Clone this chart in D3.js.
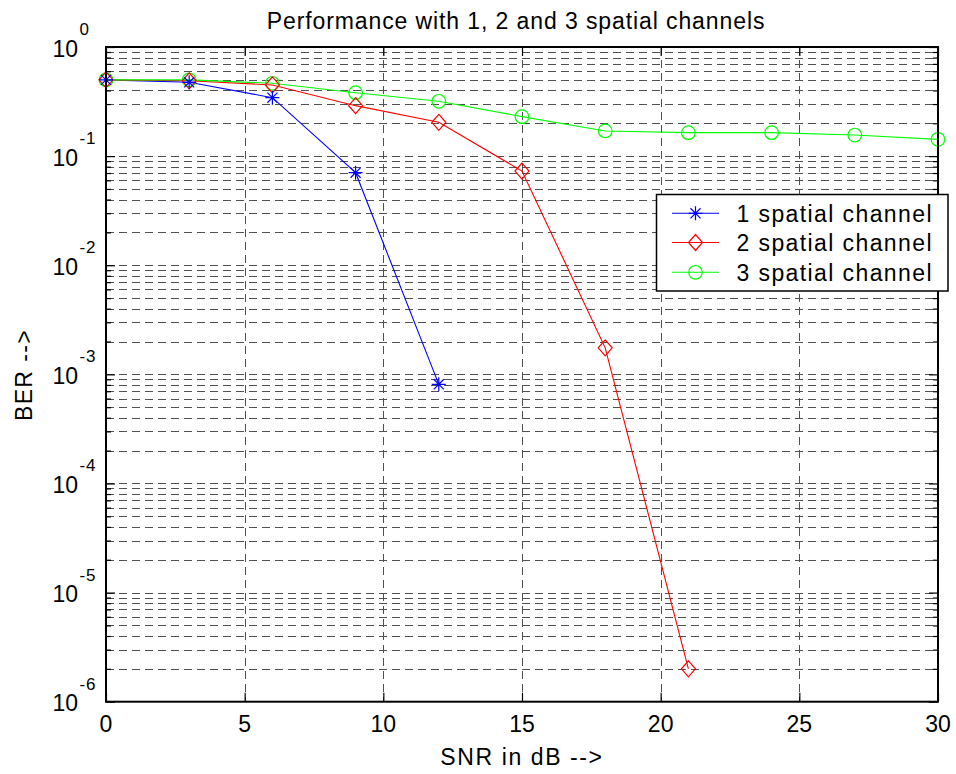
<!DOCTYPE html>
<html>
<head>
<meta charset="utf-8">
<script src="https://cdn.jsdelivr.net/npm/d3@7"></script>
<style>
  html, body { margin: 0; padding: 0; background: #fff; }
  text { font-family: "Liberation Sans", Arial, Helvetica, sans-serif; fill: #000; }
</style>
</head>
<body>
<svg id="chart" width="956" height="774"></svg>
<script>
// ---- data ----
const snr1 = [0, 3, 6, 9, 12];
const ber1 = [0.5, 0.475, 0.343, 0.0705, 8.1e-4];
const snr2 = [0, 3, 6, 9, 12, 15, 18, 21];
const ber2 = [0.5, 0.49, 0.449, 0.29, 0.204, 0.073, 1.75e-3, 2.0e-6];
const snr3 = [0, 3, 6, 9, 12, 15, 18, 21, 24, 27, 30];
const ber3 = [0.5, 0.5, 0.465, 0.381, 0.318, 0.23, 0.17, 0.164, 0.164, 0.156, 0.1425];
const seriesNames = ["1 spatial channel", "2 spatial channel", "3 spatial channel"];
const xTicks = [0, 5, 10, 15, 20, 25, 30];
const yExponents = [-6, -5, -4, -3, -2, -1, 0];
const titleText = "Performance with 1, 2 and 3 spatial channels";
const xLabelText = "SNR in dB -->";
const yLabelText = "BER -->";

// ---- layout ----
const L = 106, R = 938, T = 47, B = 701.7;
const svg = d3.select("#chart");
const x = d3.scaleLinear().domain([0, 30]).range([L, R]);
const y = d3.scaleLog().domain([1e-6, 1]).range([B, T]);

const colors = ["#0000ff", "#ff0000", "#00ff00"];
const series = [
  { name: seriesNames[0], xs: snr1, ys: ber1, color: colors[0], marker: "star" },
  { name: seriesNames[1], xs: snr2, ys: ber2, color: colors[1], marker: "diamond" },
  { name: seriesNames[2], xs: snr3, ys: ber3, color: colors[2], marker: "circle" }
];

svg.append("rect").attr("x", 0).attr("y", 0).attr("width", 956).attr("height", 774).attr("fill", "#fff");

// minor/major values
const majorVals = yExponents.map(e => Math.pow(10, e));
const minorVals = [];
yExponents.slice(0, -1).forEach(e => { for (let m = 2; m <= 9; m++) minorVals.push(m * Math.pow(10, e)); });

// ---- grid ----
const grid = svg.append("g").attr("stroke", "#505050").attr("stroke-width", 1).attr("stroke-dasharray", "8,5").attr("fill", "none");
grid.selectAll("line.h").data(majorVals.concat(minorVals).filter(v => v > 1e-6 && v < 1))
  .join("line").attr("class", "h")
  .attr("x1", L).attr("x2", R)
  .attr("y1", d => Math.round(y(d)) + 0.5).attr("y2", d => Math.round(y(d)) + 0.5);
grid.selectAll("line.v").data(xTicks.filter(v => v > 0 && v < 30))
  .join("line").attr("class", "v")
  .attr("y1", T).attr("y2", B)
  .attr("x1", d => Math.round(x(d)) + 0.5).attr("x2", d => Math.round(x(d)) + 0.5);

// ---- ticks via d3 axes (inward) ----
function noDomain(g) { g.select(".domain").remove(); g.selectAll("text").remove(); g.selectAll("line").attr("stroke", "#000").attr("stroke-width", 1.2); }
svg.append("g").attr("transform", `translate(${L},0)`).call(d3.axisLeft(y).tickValues(majorVals).tickSize(-9).tickFormat("")).call(noDomain);
svg.append("g").attr("transform", `translate(${L},0)`).call(d3.axisLeft(y).tickValues(minorVals).tickSize(-5).tickFormat("")).call(noDomain);
svg.append("g").attr("transform", `translate(${R},0)`).call(d3.axisRight(y).tickValues(majorVals).tickSize(-9).tickFormat("")).call(noDomain);
svg.append("g").attr("transform", `translate(${R},0)`).call(d3.axisRight(y).tickValues(minorVals).tickSize(-5).tickFormat("")).call(noDomain);
svg.append("g").attr("transform", `translate(0,${B})`).call(d3.axisBottom(x).tickValues(xTicks).tickSize(-9).tickFormat("")).call(noDomain);
svg.append("g").attr("transform", `translate(0,${T})`).call(d3.axisTop(x).tickValues(xTicks).tickSize(-9).tickFormat("")).call(noDomain);

// ---- series ----
const line = d3.line().x(d => x(d[0])).y(d => y(d[1]));
const starPath = (s) => {
  const a = s, b = s * 0.72;
  return `M0,${-a}L0,${a}M${-a},0L${a},0M${-b},${-b}L${b},${b}M${-b},${b}L${b},${-b}`;
};
series.forEach(s => {
  const pts = s.xs.map((v, i) => [v, s.ys[i]]);
  svg.append("path").datum(pts).attr("d", line).attr("fill", "none").attr("stroke", s.color).attr("stroke-width", 1.1);
});
function drawMarker(g, type, color) {
  if (type === "star") {
    g.append("path").attr("d", starPath(7)).attr("stroke", color).attr("stroke-width", 1.2).attr("fill", "none");
  } else if (type === "diamond") {
    g.append("path").attr("d", "M0,-8L7,0L0,8L-7,0Z").attr("stroke", color).attr("stroke-width", 1.2).attr("fill", "none");
  } else {
    g.append("circle").attr("r", 6.8).attr("stroke", color).attr("stroke-width", 1.2).attr("fill", "none");
  }
}
series.slice().reverse().forEach(s => {
  const pts = s.xs.map((v, i) => [v, s.ys[i]]);
  pts.forEach(p => {
    const g = svg.append("g").attr("transform", `translate(${x(p[0])},${y(p[1])})`);
    drawMarker(g, s.marker, s.color);
  });
});

// ---- frame ----
svg.append("rect").attr("x", L).attr("y", T).attr("width", R - L).attr("height", B - T)
  .attr("fill", "none").attr("stroke", "#000").attr("stroke-width", 2);

// ---- tick labels ----
yExponents.forEach(e => {
  const yy = y(Math.pow(10, e));
  svg.append("text").attr("x", 78).attr("y", yy + 9.5).attr("text-anchor", "end").attr("font-size", 23).text("10");
  svg.append("text").attr("x", 79.5).attr("y", yy - 12).attr("text-anchor", "start").attr("font-size", 17).attr("letter-spacing", 0.8).text(String(e));
});
xTicks.forEach(v => {
  svg.append("text").attr("x", x(v)).attr("y", 731.5).attr("text-anchor", "middle").attr("font-size", 23).text(String(v));
});

// ---- titles ----
svg.append("text").attr("x", 516).attr("y", 29).attr("text-anchor", "middle").attr("font-size", 23).attr("letter-spacing", 0.9).text(titleText);
svg.append("text").attr("x", 522).attr("y", 765).attr("text-anchor", "middle").attr("font-size", 23).attr("letter-spacing", 1.6).text(xLabelText);
svg.append("text").attr("transform", "translate(31.5,375) rotate(-90)").attr("text-anchor", "middle").attr("font-size", 23).attr("letter-spacing", 1.4).text(yLabelText);

// ---- legend ----
const lg = svg.append("g");
lg.append("rect").attr("x", 656.5).attr("y", 194.5).attr("width", 291.5).attr("height", 96.5)
  .attr("fill", "#fff").attr("stroke", "#000").attr("stroke-width", 1.5);
const rowY = [213.3, 242.5, 272.3];
series.forEach((s, i) => {
  const ry = rowY[i];
  lg.append("line").attr("x1", 672).attr("x2", 719).attr("y1", ry).attr("y2", ry).attr("stroke", s.color).attr("stroke-width", 1.1);
  const g = lg.append("g").attr("transform", `translate(695.5,${ry})`);
  drawMarker(g, s.marker, s.color);
  lg.append("text").attr("x", 736.5).attr("y", ry + 8.4).attr("font-size", 23).attr("letter-spacing", 1.4).text(s.name);
});
</script>
</body>
</html>
